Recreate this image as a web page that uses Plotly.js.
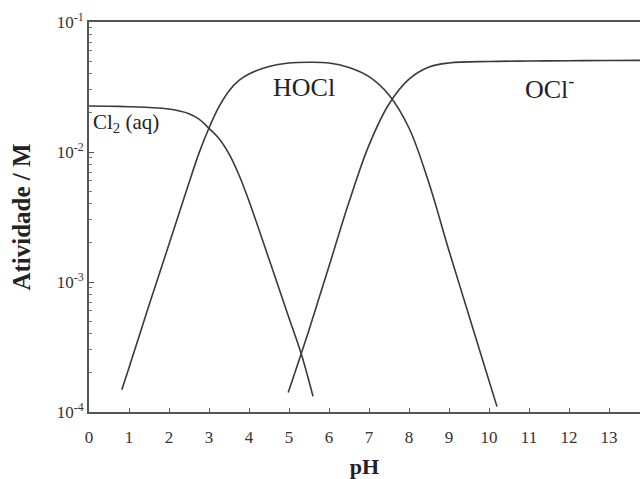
<!DOCTYPE html>
<html>
<head>
<meta charset="utf-8">
<script src="https://cdn.plot.ly/plotly-3.0.1.min.js"></script>
<style>html,body{margin:0;padding:0;background:#fff;}#chart{width:640px;height:479px;}</style>
</head>
<body>
<div id="chart"></div>
<script>
// pH values and activities (M)
var phCl2 = [0, 0.5, 1.0, 1.5, 2.0, 2.5, 2.75, 3.0, 3.25, 3.5, 3.75, 4.0, 4.5, 5.0, 5.3, 5.6];
var actCl2 = [0.0226, 0.0225, 0.0223, 0.0220, 0.0214, 0.0197, 0.0179, 0.0152, 0.0127, 0.00966, 0.00665, 0.0042, 0.00150, 0.000528, 0.000284, 0.000132];

var phHOCl = [0.82, 1.0, 1.5, 2.0, 2.5, 2.75, 3.0, 3.25, 3.5, 3.75, 4.0, 4.5, 5.0, 5.5, 6.0, 6.5, 7.0, 7.5, 8.0, 8.5, 9.0, 9.5, 10.0, 10.2];
var actHOCl = [0.000148, 0.000219, 0.000661, 0.00195, 0.00580, 0.0098, 0.0153, 0.0223, 0.0295, 0.0355, 0.0398, 0.0455, 0.0484, 0.0490, 0.0484, 0.0447, 0.0380, 0.0275, 0.0153, 0.00575, 0.00174, 0.00055, 0.000174, 0.00011];

var phOCl = [4.98, 5.5, 6.0, 6.5, 7.0, 7.5, 8.0, 8.5, 9.0, 10.0, 11.0, 12.0, 13.0, 13.78];
var actOCl = [0.000141, 0.000427, 0.00132, 0.00412, 0.0113, 0.0234, 0.0363, 0.0451, 0.0484, 0.0497, 0.0501, 0.0504, 0.0506, 0.0507];

var xTicks = [0,1,2,3,4,5,6,7,8,9,10,11,12,13];
var yTickVals = [1e-4, 1e-3, 1e-2, 1e-1];
var yTickText = ['10<sup>-4</sup>', '10<sup>-3</sup>', '10<sup>-2</sup>', '10<sup>-1</sup>'];
var yMinorVals = [2e-4,3e-4,4e-4,5e-4,6e-4,7e-4,8e-4,9e-4,2e-3,3e-3,4e-3,5e-3,6e-3,7e-3,8e-3,9e-3,2e-2,3e-2,4e-2,5e-2,6e-2,7e-2,8e-2,9e-2];

var labelText = ['Cl<sub>2</sub> (aq)', 'HOCl', 'OCl<sup>-</sup>'];

var serif = 'Liberation Serif, Times New Roman, serif';
var lineStyle = {color: '#3a3a3a', width: 1.6, shape: 'spline', smoothing: 1};

var traces = [
  {x: phCl2, y: actCl2, mode: 'lines', line: lineStyle, name: 'Cl2', hoverinfo: 'x+y'},
  {x: phHOCl, y: actHOCl, mode: 'lines', line: lineStyle, name: 'HOCl', hoverinfo: 'x+y'},
  {x: phOCl, y: actOCl, mode: 'lines', line: lineStyle, name: 'OCl-', hoverinfo: 'x+y'}
];

var layout = {
  width: 640, height: 479,
  margin: {l: 89, r: 0, t: 22, b: 67},
  paper_bgcolor: '#fff', plot_bgcolor: '#fff',
  showlegend: false,
  font: {family: serif, color: '#333'},
  xaxis: {
    range: [0, 13.775], tickvals: xTicks, ticktext: xTicks.map(String),
    showline: true, linecolor: '#555', linewidth: 2, mirror: true,
    ticks: 'inside', ticklen: 4, tickcolor: '#555', tickwidth: 1,
    ticklabelstandoff: 9,
    showgrid: false, zeroline: false,
    tickfont: {family: serif, size: 17, color: '#333'},
    title: {text: '<b>pH</b>', font: {family: serif, size: 22, color: '#222'}, standoff: 16}
  },
  yaxis: {
    type: 'log', range: [-4, -1],
    tickmode: 'array', tickvals: yTickVals, ticktext: yTickText,
    showline: true, linecolor: '#555', linewidth: 2, mirror: false,
    ticks: 'inside', ticklen: 5, tickcolor: '#555', tickwidth: 1,
    minor: {tickmode: 'array', tickvals: yMinorVals, ticks: 'inside', ticklen: 3, tickcolor: '#777', showgrid: false},
    showgrid: false, zeroline: false,
    tickfont: {family: serif, size: 17, color: '#333'},
    title: {text: '<b>Atividade / M</b>', font: {family: serif, size: 25, color: '#222'}, standoff: 19}
  },
  annotations: [
    {x: 0.05, y: -1.78, xref: 'x', yref: 'y', text: labelText[0], showarrow: false, xanchor: 'left', yanchor: 'middle', font: {family: serif, size: 21, color: '#222'}},
    {x: 5.375, y: -1.5, xref: 'x', yref: 'y', text: labelText[1], showarrow: false, xanchor: 'center', yanchor: 'middle', font: {family: serif, size: 26, color: '#222'}},
    {x: 11.5, y: -1.5, xref: 'x', yref: 'y', text: labelText[2], showarrow: false, xanchor: 'center', yanchor: 'middle', font: {family: serif, size: 26, color: '#222'}}
  ]
};

Plotly.newPlot('chart', traces, layout, {displayModeBar: false, staticPlot: true});
</script>
</body>
</html>
